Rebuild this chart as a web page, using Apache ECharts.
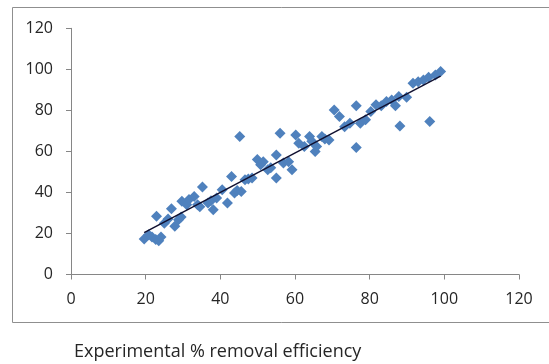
<!DOCTYPE html>
<html>
<head>
<meta charset="utf-8">
<script src="https://cdn.jsdelivr.net/npm/echarts@6/dist/echarts.min.js"></script>
<style>html,body{margin:0;padding:0;background:#fff;}#c{width:549px;height:364px;}</style>
</head>
<body>
<div id="c"></div>
<script>
const xTicks = [0, 20, 40, 60, 80, 100, 120];
const yTicks = [0, 20, 40, 60, 80, 100, 120];
const xLabel = 'Experimental % removal efficiency';
const expX = [19.6,20.8,21.7,22.7,23.5,24.1,22.9,25,26,26.9,27.8,28.8,29.5,29.7,31,31.6,33,33.9,34.5,35.2,36.7,37.5,38.1,39,40.5,41.9,43,43.8,44.5,45.2,45.6,46.6,47.5,48.5,49.9,50.8,51.5,52.7,53.5,55,55,56,56.9,58.3,59.2,60.2,61,62.5,63.9,64.5,65.4,65.8,67.2,68,69.1,70.5,71.9,73.3,74.7,76.4,76.4,77.5,78.9,80.3,81.7,83.1,84.5,85.9,86.9,87.8,88.1,89.9,91.6,93,94.4,95.8,96.1,97.6,99];
const predY = [17.3,19.4,18.3,17,16.5,18.3,28.4,25,27,32,23.5,26.7,28,35.7,34,36.5,38,34,33,42.6,34.8,36,31.6,37.3,41.3,34.8,47.8,39.7,41,67.3,40.5,46.2,46.5,47,56,53.5,55,51,52,58.3,47,68.9,54.3,55,51,68,64,62.4,67.3,65,60,62.4,67.3,66,65.6,80.2,77,72,73.7,82.2,61.9,73.7,75.4,79.4,82.7,82.2,84.3,85,82.2,86.7,72.4,86.4,93.2,94,94.8,96.1,74.6,97.2,98.9];

const pts = expX.map((x, i) => [x, predY[i]]);
// least-squares trend line
const n = expX.length;
const mx = expX.reduce((a, b) => a + b, 0) / n;
const my = predY.reduce((a, b) => a + b, 0) / n;
let sxy = 0, sxx = 0;
for (let i = 0; i < n; i++) { sxy += (expX[i] - mx) * (predY[i] - my); sxx += (expX[i] - mx) ** 2; }
const slope = sxy / sxx, icpt = my - slope * mx;
const xmin = Math.min(...expX), xmax = Math.max(...expX);
const trend = [[xmin, icpt + slope * xmin], [xmax, icpt + slope * xmax]];

const font = '"Open Sans", sans-serif';
const axisCol = '#868686';
const chart = echarts.init(document.getElementById('c'), null, {renderer: 'canvas'});
chart.setOption({
  animation: false,
  graphic: [
    {type: 'rect', shape: {x: 12.5, y: 7.5, width: 560, height: 315}, style: {fill: 'none', stroke: '#8f8f8f', lineWidth: 1}, silent: true},
    {type: 'text', left: 74, top: 343, style: {text: xLabel, font: '18px ' + font, fill: '#262626'}}
  ],
  grid: {left: 71, right: 30, top: 28.3, bottom: 89.5},
  xAxis: {
    type: 'value', min: xTicks[0], max: xTicks[xTicks.length - 1], interval: 20,
    splitLine: {show: false},
    axisLine: {show: true, lineStyle: {color: axisCol, width: 1}},
    axisTick: {show: true, length: 5, lineStyle: {color: axisCol}},
    axisLabel: {fontFamily: font, fontSize: 16, color: '#262626', margin: 17}
  },
  yAxis: {
    type: 'value', min: yTicks[0], max: yTicks[yTicks.length - 1], interval: 20,
    splitLine: {show: false},
    axisLine: {show: true, lineStyle: {color: axisCol, width: 1}},
    axisTick: {show: true, length: 5, lineStyle: {color: axisCol}},
    axisLabel: {fontFamily: font, fontSize: 16, color: '#262626', margin: 18}
  },
  series: [
    {type: 'scatter', data: pts, symbol: 'diamond', symbolSize: 11, itemStyle: {color: '#4F81BD', opacity: 1}},
    {type: 'line', data: trend, symbol: 'none', lineStyle: {color: '#101030', width: 1.5}, z: 5}
  ]
});
</script>
</body>
</html>
